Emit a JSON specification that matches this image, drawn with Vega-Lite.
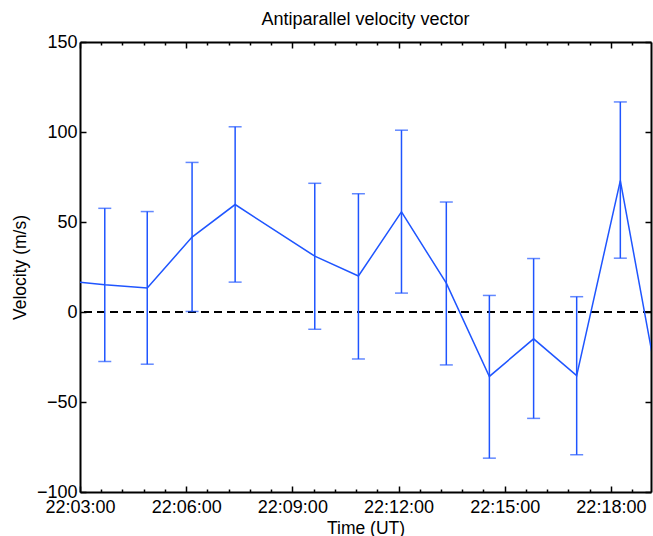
{
  "$schema": "https://vega.github.io/schema/vega-lite/v6.json",
  "width": 571,
  "height": 450,
  "autosize": "none",
  "padding": {"left": 80, "top": 42, "right": 2, "bottom": 44},
  "background": "white",
  "title": {"text": "Antiparallel velocity vector", "font": "Liberation Sans", "fontSize": 18, "fontWeight": "normal", "color": "black", "anchor": "middle", "frame": "group", "offset": 4},
  "config": {
    "view": {"stroke": null},
    "axis": {"domainColor": "black", "domainWidth": 2, "tickColor": "black", "tickWidth": 1.5, "labelColor": "black", "titleColor": "black", "labelFont": "Liberation Sans", "titleFont": "Liberation Sans", "labelFontSize": 18, "titleFontSize": 17.5, "titleFontWeight": "normal", "grid": false, "labelFlush": false, "labelOverlap": false}
  },
  "data": {"values": [
    {"t": "2000-01-01T22:02:28Z", "v": 17.6, "lo": -26.4, "hi": 61.6},
    {"t": "2000-01-01T22:03:42Z", "v": 15.1, "lo": -27.5, "hi": 57.6},
    {"t": "2000-01-01T22:04:54Z", "v": 13.4, "lo": -29.0, "hi": 55.8},
    {"t": "2000-01-01T22:06:10Z", "v": 41.6, "lo": 0.3, "hi": 83.1},
    {"t": "2000-01-01T22:07:23Z", "v": 59.7, "lo": 16.6, "hi": 102.9},
    {"t": "2000-01-01T22:09:38Z", "v": 31.0, "lo": -9.6, "hi": 71.5},
    {"t": "2000-01-01T22:10:52Z", "v": 20.0, "lo": -26.1, "hi": 65.7},
    {"t": "2000-01-01T22:12:05Z", "v": 55.6, "lo": 10.5, "hi": 101.0},
    {"t": "2000-01-01T22:13:21Z", "v": 16.0, "lo": -29.4, "hi": 61.1},
    {"t": "2000-01-01T22:14:34Z", "v": -35.8, "lo": -81.2, "hi": 9.2},
    {"t": "2000-01-01T22:15:49Z", "v": -14.9, "lo": -59.1, "hi": 29.7},
    {"t": "2000-01-01T22:17:02Z", "v": -35.3, "lo": -79.3, "hi": 8.5},
    {"t": "2000-01-01T22:18:16Z", "v": 73.0, "lo": 29.9, "hi": 116.7},
    {"t": "2000-01-01T22:19:30Z", "v": -59.0, "lo": -103.0, "hi": -15.0}
  ]},
  "layer": [
    {
      "mark": {"type": "rule", "color": "black", "strokeWidth": 1.2, "strokeDash": [8, 5]},
      "encoding": {"y": {"datum": 0, "type": "quantitative", "axis": null}}
    },
    {
      "mark": {"type": "rule", "color": "#1f55ff", "strokeWidth": 1.5, "clip": true},
      "encoding": {
        "x": {"field": "t", "type": "temporal",
          "scale": {"type": "utc", "domain": [946764180000, 946765148000], "nice": false},
          "axis": {"orient": "bottom", "title": "Time (UT)",
            "values": [946764180000, 946764216000, 946764252000, 946764288000, 946764324000, 946764360000, 946764396000, 946764432000, 946764468000, 946764504000, 946764540000, 946764576000, 946764612000, 946764648000, 946764684000, 946764720000, 946764756000, 946764792000, 946764828000, 946764864000, 946764900000, 946764936000, 946764972000, 946765008000, 946765044000, 946765080000, 946765116000],
            "labelExpr": "utcseconds(datum.value) == 0 && utcminutes(datum.value) % 3 == 0 ? utcFormat(datum.value, '%H:%M:%S') : ''",
            "tickSize": {"condition": {"test": "utcseconds(datum.value) == 0 && utcminutes(datum.value) % 3 == 0", "value": -6}, "value": -3},
            "labelPadding": 12, "titlePadding": 0}},
        "y": {"field": "lo", "type": "quantitative",
          "scale": {"domain": [-100, 150], "nice": false, "zero": false},
          "axis": {"orient": "left", "title": "Velocity (m/s)", "values": [-100, -50, 0, 50, 100, 150], "tickSize": -6, "labelPadding": 9, "titlePadding": 7}},
        "y2": {"field": "hi"}
      }
    },
    {
      "mark": {"type": "tick", "orient": "horizontal", "color": "#1f55ff", "size": 13, "thickness": 1.5, "clip": true},
      "encoding": {
        "x": {"field": "t", "type": "temporal", "axis": null},
        "y": {"field": "lo", "type": "quantitative", "axis": null}
      }
    },
    {
      "mark": {"type": "tick", "orient": "horizontal", "color": "#1f55ff", "size": 13, "thickness": 1.5, "clip": true},
      "encoding": {
        "x": {"field": "t", "type": "temporal", "axis": null},
        "y": {"field": "hi", "type": "quantitative", "axis": null}
      }
    },
    {
      "mark": {"type": "line", "color": "#1f55ff", "strokeWidth": 1.5, "clip": true},
      "encoding": {
        "x": {"field": "t", "type": "temporal",
          "axis": {"orient": "top", "title": null, "labels": false,
            "values": [946764180000, 946764216000, 946764252000, 946764288000, 946764324000, 946764360000, 946764396000, 946764432000, 946764468000, 946764504000, 946764540000, 946764576000, 946764612000, 946764648000, 946764684000, 946764720000, 946764756000, 946764792000, 946764828000, 946764864000, 946764900000, 946764936000, 946764972000, 946765008000, 946765044000, 946765080000, 946765116000],
            "tickSize": {"condition": {"test": "utcseconds(datum.value) == 0 && utcminutes(datum.value) % 3 == 0", "value": -6}, "value": -3}}},
        "y": {"field": "v", "type": "quantitative",
          "axis": {"orient": "right", "title": null, "labels": false, "values": [-100, -50, 0, 50, 100, 150], "tickSize": -6}}
      }
    }
  ],
  "resolve": {"axis": {"x": "independent", "y": "independent"}}
}
